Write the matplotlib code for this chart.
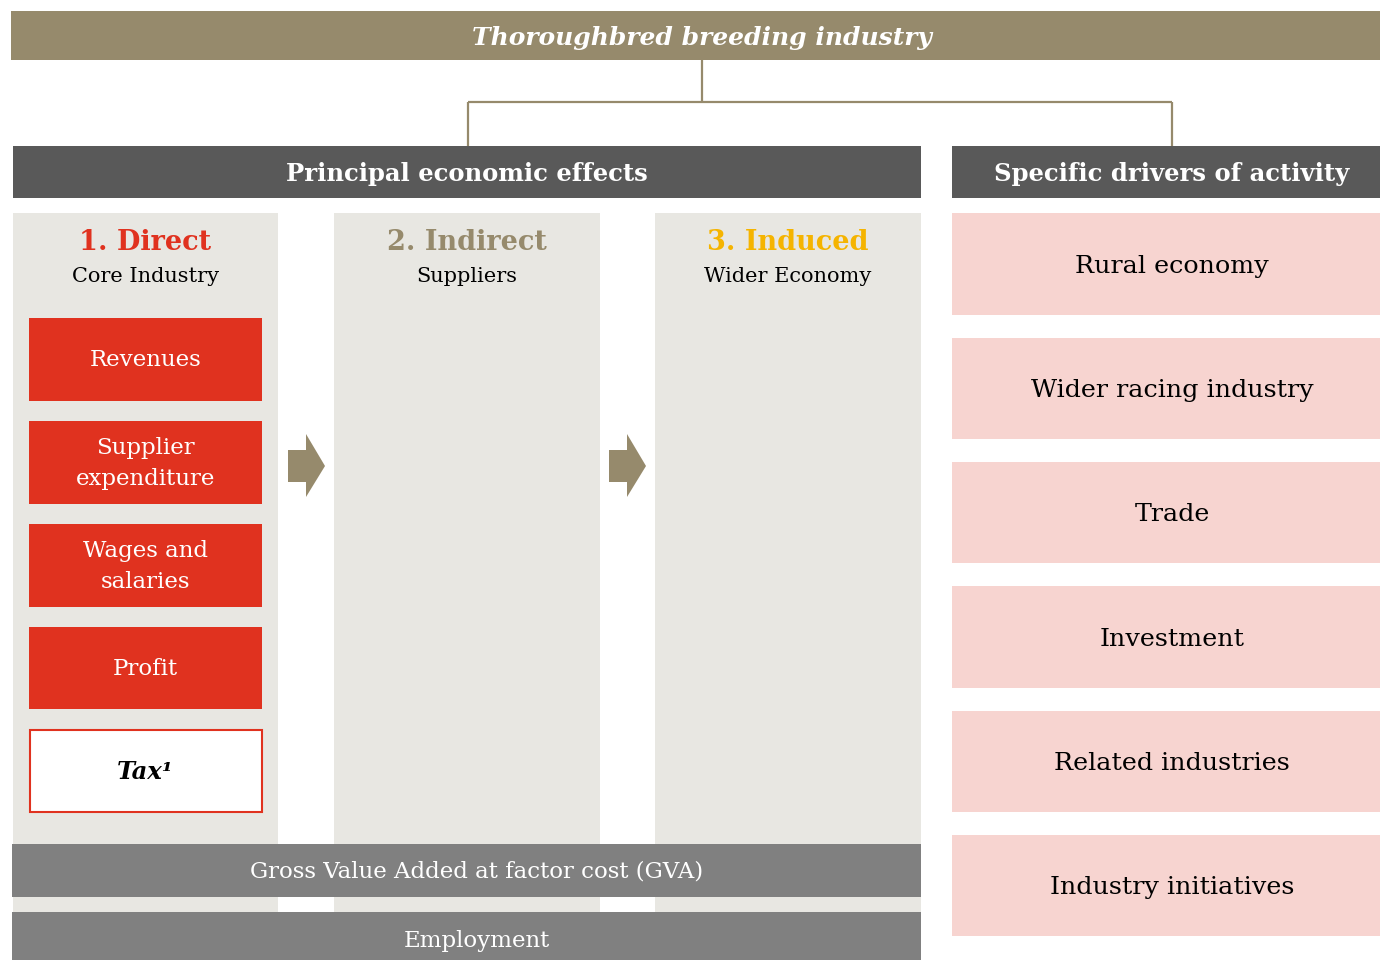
import matplotlib
matplotlib.use("Agg")
import matplotlib.pyplot as plt
from matplotlib.patches import Rectangle, Polygon

# ---- content ----
title = "Thoroughbred breeding industry"
left_header = "Principal economic effects"
right_header = "Specific drivers of activity"
col_titles = ["1. Direct", "2. Indirect", "3. Induced"]
col_subtitles = ["Core Industry", "Suppliers", "Wider Economy"]
direct_items = ["Revenues", "Supplier\nexpenditure", "Wages and\nsalaries", "Profit"]
tax_label = "Tax¹"
bottom_bars = ["Gross Value Added at factor cost (GVA)", "Employment"]
drivers = ["Rural economy", "Wider racing industry", "Trade", "Investment",
           "Related industries", "Industry initiatives"]

# ---- styles ----
GOLD = "#968a6c"
DARK = "#595959"
MID = "#808080"
LIGHT = "#e8e7e2"
RED = "#e0321f"
PINK = "#f7d4d0"
YELLOW = "#f5b400"
col_title_colors = [RED, GOLD, YELLOW]
FONT = "DejaVu Serif"

W, H = 1380, 960
fig = plt.figure(figsize=(W / 100, H / 100), dpi=100)
ax = fig.add_axes([0, 0, 1, 1])
ax.set_xlim(0, W)
ax.set_ylim(H, 0)
ax.axis("off")


def rect(x0, y0, x1, y1, fc, ec="none", lw=0, z=1):
    ax.add_patch(Rectangle((x0, y0), x1 - x0, y1 - y0, facecolor=fc,
                           edgecolor=ec, linewidth=lw, zorder=z))


def txt(x, y, s, size, color="black", weight="normal", style="normal", z=5, ls=1.05):
    ax.text(x, y, s, fontsize=size, color=color, fontweight=weight, fontstyle=style,
            ha="center", va="center", family=FONT, zorder=z, linespacing=ls)


# top banner
rect(11, 11, 1380, 60, GOLD)
txt(702, 38, title, 18, "white", "bold", "italic")

# connectors
lc = dict(color=GOLD, lw=1.6, zorder=2, solid_capstyle="butt")
ax.plot([702, 702], [60, 102], **lc)
ax.plot([468, 1172], [102, 102], **lc)
ax.plot([468, 468], [102, 146], **lc)
ax.plot([1172, 1172], [102, 146], **lc)

# headers
rect(13, 146, 921, 198, DARK)
txt(467, 174, left_header, 17.5, "white", "bold")
rect(952, 146, 1380, 198, DARK)
txt(1172, 174, right_header, 17.5, "white", "bold")

# columns
cols = [(13, 278), (334, 600), (655, 921)]
for (x0, x1), t, st, c in zip(cols, col_titles, col_subtitles, col_title_colors):
    rect(x0, 213, x1, 912, LIGHT)
    cx = (x0 + x1) / 2
    txt(cx, 242, t, 19.5, c, "bold")
    txt(cx, 276, st, 15, "black")

# direct items
box_y = [(318, 401), (421, 504), (524, 607), (627, 709)]
for (y0, y1), lab in zip(box_y, direct_items):
    rect(29, y0, 262, y1, RED, z=3)
    txt(145.5, (y0 + y1) / 2 + 1, lab, 16.5, "white", ls=1.55)
rect(29.5, 729.5, 262, 812, "white", ec=RED, lw=1.5, z=3)
txt(145.5, 772, tax_label, 17.5, "black", "bold", "italic")

# arrows
for ax0 in (288, 609):
    pts = [(ax0, 450), (ax0 + 18, 450), (ax0 + 18, 434), (ax0 + 37, 466),
           (ax0 + 18, 497), (ax0 + 18, 482), (ax0, 482)]
    ax.add_patch(Polygon(pts, closed=True, facecolor=GOLD, edgecolor="none", zorder=3))

# bottom bars
bar_y = [(844, 897), (912, 970)]
for (y0, y1), lab in zip(bar_y, bottom_bars):
    rect(12, y0, 921, y1, MID, z=4)
    yc = (y0 + y1) / 2 + 1 if y1 < 960 else 941
    txt(477, yc, lab, 16.5, "white")

# drivers
drv_y = [(213, 315), (338, 439), (462, 563), (586, 688), (711, 812), (835, 936)]
for (y0, y1), lab in zip(drv_y, drivers):
    rect(952, y0, 1380, y1, PINK)
    txt(1172, (y0 + y1) / 2 + 2, lab, 18.3, "black")

fig.savefig("out.png", dpi=100)
